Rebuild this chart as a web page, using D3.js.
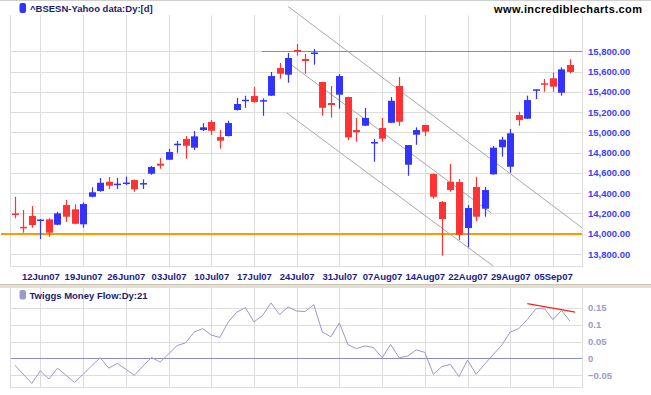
<!DOCTYPE html>
<html lang="en">
<head>
    <meta charset="utf-8" />
    <title> BSESN candles </title>
    <script src="https://cdn.jsdelivr.net/npm/d3@7"></script>
    <style>
        body { margin: 0px; background: #ffffff; }
        svg text { font-family: Arial, 'Liberation Sans', sans-serif; }
    </style>
</head>
<body>

<svg id="chart" width="651" height="395"></svg>

<script>

    // daily candles, 07Jun07 .. 07Sep07 (index = trading day)
    var opens  = [14200,14068,14175,14130,14142,14089,14283,14241,14093,14365,14421,14513,14484,14497,14530,14488,
                  14592,14691,14730,14878,14935,14849,15023,15102,14954,14964,15221,15313,15359,15309,15362,15635,
                  15569,15813,15724,15773,15497,15290,15372,15349,15023,15066,14898,15043,15095,15458,14681,14977,
                  15073,14589,14313,14513,14510,14056,14461,14247,14586,14853,14661,15171,15135,15411,15484,15534,
                  15391,15665];
    var highs  = [14365,14234,14273,14145,14152,14217,14333,14290,14310,14458,14550,14560,14550,14563,14535,14537,
                  14668,14747,14836,14915,14964,15013,15092,15122,15023,15115,15339,15362,15448,15336,15596,15685,
                  15783,15872,15773,15823,15500,15458,15576,15352,15142,15240,14934,15142,15349,15546,14875,15050,
                  15076,14597,14323,14688,14540,14283,14562,14461,14866,14957,15033,15204,15362,15425,15527,15589,
                  15642,15721];
    var lows   = [14152,14010,14059,13948,13970,14085,14115,14093,14059,14359,14414,14441,14441,14481,14414,14441,
                  14582,14641,14727,14799,14740,14826,15013,14974,14839,14960,15215,15243,15293,15164,15360,15530,
                  15490,15757,15579,15668,15164,15145,15234,14922,14908,15062,14710,14908,15092,15066,14572,14878,
                  14964,14345,13783,14414,13938,13866,14125,14168,14583,14760,14602,15066,15132,15329,15401,15401,
                  15362,15583];
    var closes = [14190,14058,14086,14140,14010,14201,14168,14098,14293,14409,14503,14474,14494,14505,14438,14500,
                  14658,14671,14806,14888,14868,14961,15050,15016,14918,15092,15280,15322,15300,15318,15556,15579,
                  15734,15796,15704,15788,15243,15270,15556,14951,15001,15142,14905,14938,15312,15105,14875,15023,
                  15007,14365,14145,14431,13990,14254,14168,14431,14849,14928,14991,15122,15319,15425,15470,15451,
                  15622,15596];

    // Twiggs Money Flow (21 day)
    var tmf = [-0.020,-0.047,-0.074,-0.037,-0.061,-0.029,-0.050,-0.071,-0.047,-0.022,0.002,-0.029,-0.015,-0.032,
               -0.050,-0.023,0.003,-0.011,0.013,0.038,0.046,0.078,0.088,0.069,0.062,0.108,0.137,0.150,0.108,0.127,
               0.164,0.130,0.152,0.140,0.139,0.159,0.078,0.064,0.105,0.041,0.029,0.037,0.032,0.002,0.041,0.002,
               0.007,0.025,0.018,-0.047,-0.024,-0.018,-0.054,-0.005,-0.047,-0.017,0.011,0.039,0.078,0.088,0.115,
               0.147,0.147,0.115,0.142,0.110];

    var tickIdx    = [3,8,13,18,23,28,33,38,43,48,53,58,63];
    var tickLabels = ['12Jun07','19Jun07','26Jun07','03Jul07','10Jul07','17Jul07','24Jul07',
                      '31Jul07','07Aug07','14Aug07','22Aug07','29Aug07','05Sep07'];
    var priceTicks = [13800,14000,14200,14400,14600,14800,15000,15200,15400,15600,15800];
    var tmfTicks   = [-0.05,0,0.05,0.1,0.15];

    // trend lines drawn on the chart: [index, value] pairs
    var channelUpper = [[32,16242],[66.4,14059]];
    var channelMid   = [[32,15690],[55.8,14204]];
    var channelLower = [[31.8,15194],[56,13681]];
    var resistance   = [[28.9,15800],[66.4,15800]];
    var support      = [[-1.6,14000],[66.4,14000]];
    var tmfTrend     = [[60,0.162],[65.6,0.137]];

    function main() {

        var svg = d3.select('#chart');

        var left = 10.5, right = 582;
        var mainTop = 15, mainBottom = 266;
        var lowTop = 288, lowBottom = 387;

        var x = d3.scaleLinear().domain([-0.5, 66.4]).range([left, right]);
        var y = d3.scaleLinear().domain([13800, 15800]).range([254, 51.3]);
        var yLow = d3.scaleLinear().domain([-0.05, 0.15]).range([375.3, 307.7]);

        var gridColor = '#dddddd';

        svg.append('line')
            .attr('x1',0).attr('x2',651).attr('y1',0.5).attr('y2',0.5)
            .style('stroke','#cfcfcf');

        //==== main panel
        var gMain = svg.append('g');

        gMain.append('g')
            .attr('transform','translate(0,' + mainBottom + ')')
            .call(d3.axisBottom(x).tickValues(tickIdx).tickSize(-(mainBottom - mainTop)).tickFormat(''))
            .call(function(g) {
                g.select('.domain').remove();
                g.selectAll('line').style('stroke',gridColor).attr('shape-rendering','crispEdges');
            });

        gMain.append('g')
            .attr('transform','translate(' + right + ',0)')
            .call(d3.axisRight(y).tickValues(priceTicks).tickSize(-(right - left)).tickPadding(6)
                .tickFormat(d3.format(',.2f')))
            .call(function(g) {
                g.select('.domain').remove();
                g.selectAll('line').style('stroke',gridColor).attr('shape-rendering','crispEdges');
                g.selectAll('text')
                    .style('fill','#3d3dff')
                    .style('font-size','9.5px')
                    .style('font-weight','bold');
            });

        // x labels
        gMain.append('g')
            .attr('transform','translate(0,' + (mainBottom + 4) + ')')
            .call(d3.axisBottom(x).tickValues(tickIdx).tickSize(0).tickPadding(3)
                .tickFormat(function(d, i) { return tickLabels[i]; }))
            .call(function(g) {
                g.select('.domain').remove();
                g.selectAll('text')
                    .style('fill','#1c1c8a')
                    .style('font-size','9.5px')
                    .style('font-weight','bold');
            });

        // plot border
        gMain.append('path')
            .attr('d','M' + left + ',' + mainTop + 'V' + mainBottom + 'H' + right + 'V' + mainTop)
            .style('fill','none').style('stroke',gridColor).attr('shape-rendering','crispEdges');

        var line = d3.line()
            .x(function(d) { return x(d[0]); })
            .y(function(d) { return y(d[1]); });

        gMain.append('path').datum(support)
            .attr('d',line).attr('shape-rendering','crispEdges')
            .style('stroke','#ff9900').style('stroke-width',2).style('fill','none');
        gMain.append('path').datum(resistance)
            .attr('d',line).attr('shape-rendering','crispEdges')
            .style('stroke','#33cc33').style('stroke-width',1).style('fill','none');

        [channelUpper, channelMid, channelLower].forEach(function(c) {
            gMain.append('path').datum(c)
                .attr('d',line).style('stroke','#a8a8a8').style('stroke-width',1).style('fill','none');
        });

        // candles
        var candles = d3.range(opens.length).map(function(i) {
            return { i: i, o: opens[i], h: highs[i], l: lows[i], c: closes[i] };
        });

        var cg = gMain.append('g').selectAll('g').data(candles).enter().append('g');

        cg.append('line')
            .attr('x1',function(d) { return Math.round(x(d.i)) + 0.5; })
            .attr('x2',function(d) { return Math.round(x(d.i)) + 0.5; })
            .attr('y1',function(d) { return y(d.h); })
            .attr('y2',function(d) { return y(d.l); })
            .style('stroke',function(d) { return d.c >= d.o ? '#3333ff' : '#ff3333'; })
            .style('stroke-width',1.2);

        cg.append('rect')
            .attr('x',function(d) { return Math.round(x(d.i)) - 3; })
            .attr('width',7)
            .attr('y',function(d) { return y(Math.max(d.o, d.c)); })
            .attr('height',function(d) { return Math.max(1.5, Math.abs(y(d.o) - y(d.c))); })
            .style('fill',function(d) { return d.c >= d.o ? '#3333ff' : '#ff3333'; });

        // title
        svg.append('rect')
            .attr('x',19.5).attr('y',3).attr('width',6.5).attr('height',10).attr('rx',2)
            .style('fill','#3333ff');
        svg.append('text')
            .attr('x',30).attr('y',12)
            .text('^BSESN-Yahoo data:Dy:[d]')
            .style('font-size','9.5px').style('font-weight','bold').style('fill','#1c1c6e');

        svg.append('text')
            .attr('x',494).attr('y',12.5)
            .attr('textLength',148)
            .text('www.incrediblecharts.com')
            .style('font-size','11px').style('font-weight','bold').style('fill','#000000');

        // separator
        svg.append('rect')
            .attr('x',0).attr('y',284.5).attr('width',651).attr('height',3.5)
            .style('fill','#e2dfd2');
        svg.append('line')
            .attr('x1',0).attr('x2',651).attr('y1',284.5).attr('y2',284.5)
            .style('stroke','#c9c5b2');

        //==== lower panel
        var gLow = svg.append('g');

        gLow.append('g')
            .attr('transform','translate(0,' + lowBottom + ')')
            .call(d3.axisBottom(x).tickValues(tickIdx).tickSize(-(lowBottom - lowTop)).tickFormat(''))
            .call(function(g) {
                g.select('.domain').remove();
                g.selectAll('line').style('stroke',gridColor).attr('shape-rendering','crispEdges');
            });

        gLow.append('g')
            .attr('transform','translate(' + right + ',0)')
            .call(d3.axisRight(yLow).tickValues(tmfTicks).tickSize(-(right - left)).tickPadding(6)
                .tickFormat(function(d) { return d3.format('')(+d.toFixed(2)); }))
            .call(function(g) {
                g.select('.domain').remove();
                g.selectAll('line')
                    .style('stroke',function(d) { return d === 0 ? '#8c8ccc' : gridColor; })
                    .attr('shape-rendering','crispEdges');
                g.selectAll('text')
                    .style('fill','#9a9acc')
                    .style('font-size','9.5px')
                    .style('font-weight','bold');
            });

        gLow.append('path')
            .attr('d','M' + left + ',' + lowTop + 'V' + lowBottom + 'H' + right + 'V' + lowTop)
            .style('fill','none').style('stroke',gridColor).attr('shape-rendering','crispEdges');

        var lowLine = d3.line()
            .x(function(d) { return x(d[0]); })
            .y(function(d) { return yLow(d[1]); });

        gLow.append('path')
            .datum(tmf.map(function(v, i) { return [i, v]; }))
            .attr('d',lowLine)
            .style('fill','none').style('stroke','#9999cc').style('stroke-width',1);

        gLow.append('path').datum(tmfTrend)
            .attr('d',lowLine)
            .style('fill','none').style('stroke','#ff2020').style('stroke-width',1.3);

        svg.append('rect')
            .attr('x',19.5).attr('y',290).attr('width',6.5).attr('height',9.5).attr('rx',2)
            .style('fill','#9a9acc');
        svg.append('text')
            .attr('x',29.5).attr('y',298.5)
            .text('Twiggs Money Flow:Dy:21')
            .style('font-size','9.5px').style('font-weight','bold').style('fill','#1c1c6e');
    }

    main();

</script>

</body>
</html>
